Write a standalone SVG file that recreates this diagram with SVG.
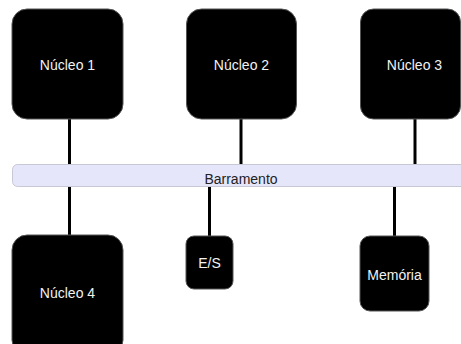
<svg xmlns="http://www.w3.org/2000/svg" width="461" height="344" viewBox="0 0 461 344">
<style>
.node rect{fill:#000;stroke:#555;stroke-width:1}
.node text{fill:#f2f2f2;font-family:"Liberation Sans",Arial,sans-serif;font-size:14px;text-anchor:middle}
.bus rect{fill:#e6e6fb;stroke:#c8c8d4;stroke-width:1}
.bus text{fill:#222;font-family:"Liberation Sans",Arial,sans-serif;font-size:14px;text-anchor:middle}
.links line{stroke:#000;stroke-width:3}
</style>
<rect width="461" height="344" fill="#fff"/>
<g class="links">
<line x1="69.5" y1="119" x2="69.5" y2="164"/>
<line x1="241" y1="119" x2="241" y2="164"/>
<line x1="415" y1="119" x2="415" y2="164"/>
<line x1="69.5" y1="187" x2="69.5" y2="235"/>
<line x1="209.5" y1="187" x2="209.5" y2="236"/>
<line x1="394.5" y1="187" x2="394.5" y2="236"/>
</g>
<g id="nucleo1" class="node"><rect x="12" y="9" width="111" height="110" rx="15"/><text x="67.5" y="70">Núcleo 1</text></g>
<g id="nucleo2" class="node"><rect x="186.5" y="9" width="110" height="110" rx="15"/><text x="241.5" y="70">Núcleo 2</text></g>
<g id="nucleo3" class="node"><rect x="360.5" y="9" width="100" height="110" rx="13"/><text x="414.5" y="70">Núcleo 3</text></g>
<g id="barramento" class="bus"><rect x="12.5" y="164.5" width="470" height="22" rx="5"/><text x="241" y="184">Barramento</text></g>
<g id="nucleo4" class="node"><rect x="12" y="235" width="111" height="120" rx="15"/><text x="67.5" y="298">Núcleo 4</text></g>
<g id="es" class="node"><rect x="186" y="236" width="47" height="53" rx="8"/><text x="209.5" y="268">E/S</text></g>
<g id="memoria" class="node"><rect x="360" y="236" width="69" height="75" rx="10"/><text x="394.5" y="280">Memória</text></g>
</svg>
